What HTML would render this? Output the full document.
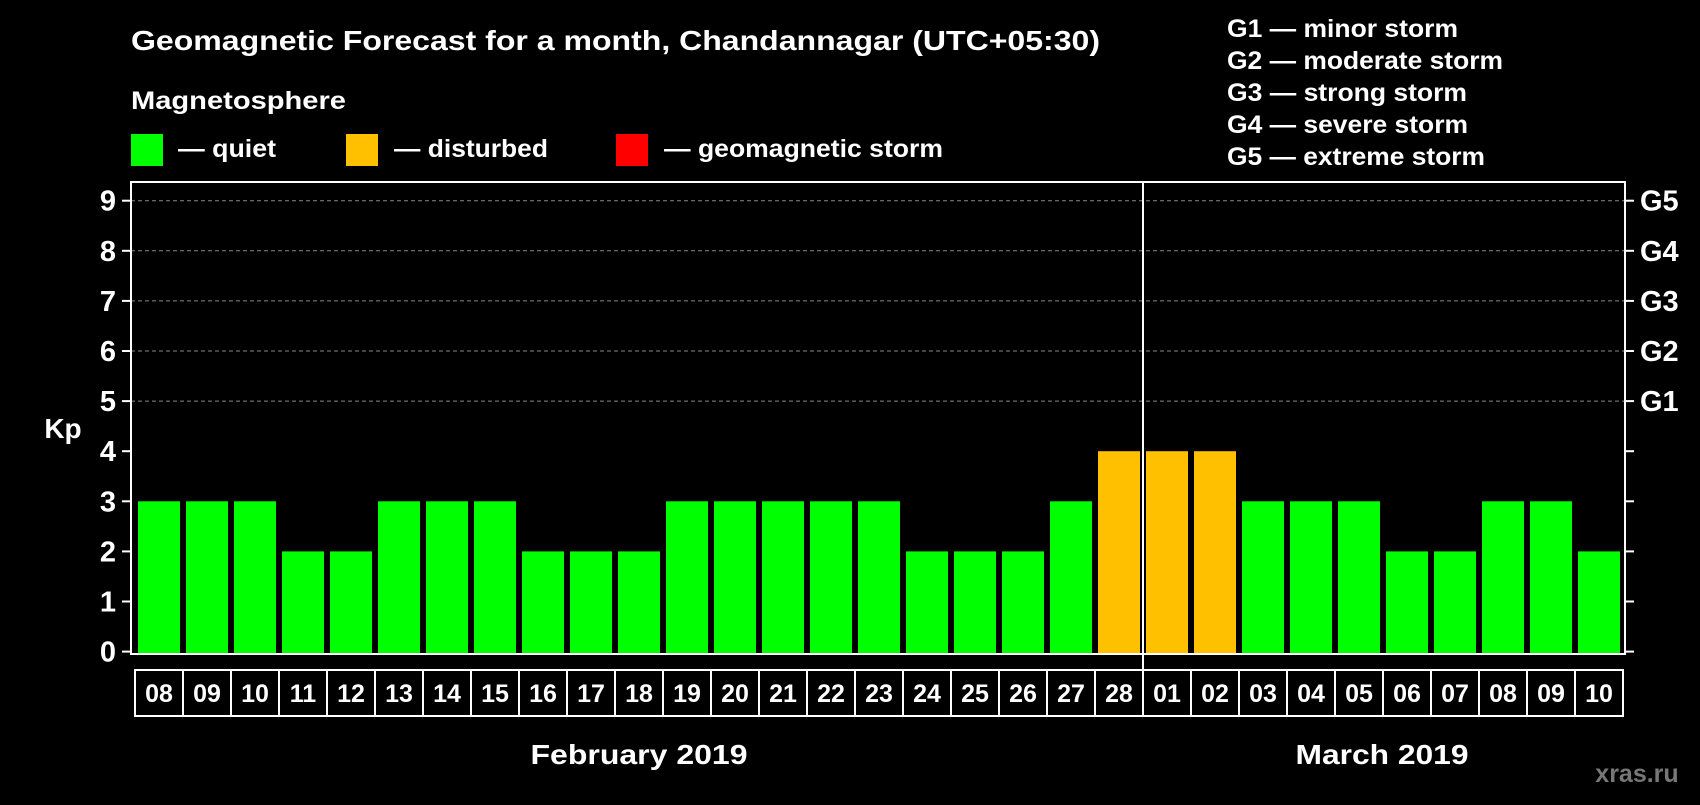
<!DOCTYPE html>
<html><head><meta charset="utf-8"><style>
body{margin:0;background:#000;width:1700px;height:800px;overflow:hidden;font-family:"Liberation Sans",sans-serif;}
svg text{font-family:"Liberation Sans",sans-serif;font-weight:bold;fill:#fff;}
</style></head><body>
<svg id="c" width="1700" height="800">
<text x="131" y="50" font-size="28" textLength="969" lengthAdjust="spacingAndGlyphs">Geomagnetic Forecast for a month, Chandannagar (UTC+05:30)</text>
<text x="131" y="109" font-size="25" textLength="215" lengthAdjust="spacingAndGlyphs">Magnetosphere</text>
<rect x="131" y="134" width="32" height="32" fill="#00ff00"/>
<text x="178" y="157" font-size="25" textLength="98" lengthAdjust="spacingAndGlyphs">— quiet</text>
<rect x="346" y="134" width="32" height="32" fill="#ffc000"/>
<text x="394" y="157" font-size="25" textLength="154" lengthAdjust="spacingAndGlyphs">— disturbed</text>
<rect x="616" y="134" width="32" height="32" fill="#ff0000"/>
<text x="664" y="157" font-size="25" textLength="279" lengthAdjust="spacingAndGlyphs">— geomagnetic storm</text>
<g font-size="25">
<text x="1227" y="37" textLength="231" lengthAdjust="spacingAndGlyphs">G1 — minor storm</text>
<text x="1227" y="69" textLength="276" lengthAdjust="spacingAndGlyphs">G2 — moderate storm</text>
<text x="1227" y="101" textLength="240" lengthAdjust="spacingAndGlyphs">G3 — strong storm</text>
<text x="1227" y="133" textLength="241" lengthAdjust="spacingAndGlyphs">G4 — severe storm</text>
<text x="1227" y="165" textLength="258" lengthAdjust="spacingAndGlyphs">G5 — extreme storm</text>
</g>
<text x="63" y="438" font-size="28" text-anchor="middle">Kp</text>
<g id="plot"></g>
<text x="639" y="764" font-size="28" text-anchor="middle" textLength="217" lengthAdjust="spacingAndGlyphs">February 2019</text>
<text x="1382" y="764" font-size="28" text-anchor="middle" textLength="173" lengthAdjust="spacingAndGlyphs">March 2019</text>
<text x="1637" y="782" font-size="25" text-anchor="middle" style="fill:#777">xras.ru</text>
</svg>
<script>
const days=["08","09","10","11","12","13","14","15","16","17","18","19","20","21","22","23","24","25","26","27","28","01","02","03","04","05","06","07","08","09","10"];
const kp=[3,3,3,2,2,3,3,3,2,2,2,3,3,3,3,3,2,2,2,3,4,4,4,3,3,3,2,2,3,3,2];
const yTicks=[0,1,2,3,4,5,6,7,8,9];
const gLabels=["","","","","","G1","G2","G3","G4","G5"];
const NS="http://www.w3.org/2000/svg";
const g=document.getElementById('plot');
const L=131,R=1625,T=182,B=654;
const y=v=>651.6-v*50.1;
const x=i=>138+i*48;
function mk(t,a){const e=document.createElementNS(NS,t);for(const k in a)e.setAttribute(k,a[k]);g.appendChild(e);return e;}
yTicks.forEach((v,i)=>{
 if(v>=5){const l=mk('line',{x1:L,x2:R,y1:y(v),y2:y(v),stroke:'#888','stroke-dasharray':'4,3','stroke-width':1});
 
 }
 const t1=mk('line',{x1:L-9,x2:L,y1:y(v),y2:y(v),stroke:'#fff','stroke-width':2});
 
 
 const t2=mk('line',{x1:R,x2:R+9,y1:y(v),y2:y(v),stroke:'#fff','stroke-width':2});
 
 
 const lb=mk('text',{x:116,y:y(v)+10,'font-size':29,'text-anchor':'end'});lb.textContent=v;
 
 
 if(gLabels[i]){const gl=mk('text',{x:1640,y:y(v)+10,'font-size':29});gl.textContent=gLabels[i];
 
 }
});
kp.forEach((v,i)=>{
 const b=mk('rect',{x:x(i),y:y(v),width:42,height:B-1-y(v),fill:v>=5?'#ff0000':v>=4?'#ffc000':'#00ff00'});
 
 
 const c=mk('rect',{x:135+i*48,y:670,width:48,height:46,fill:'none',stroke:'#fff','stroke-width':2});
 
 
 const t=mk('text',{x:159+i*48,y:702,'font-size':25,'text-anchor':'middle'});t.textContent=days[i];
 
 
});
const fr=mk('rect',{x:L,y:T,width:R-L,height:B-T,fill:'none',stroke:'#fff','stroke-width':2});


const mi=days.indexOf("01");
const sep=mk('line',{x1:x(mi)-3,x2:x(mi)-3,y1:T,y2:716,stroke:'#fff','stroke-width':2});


</script>
</body></html>
